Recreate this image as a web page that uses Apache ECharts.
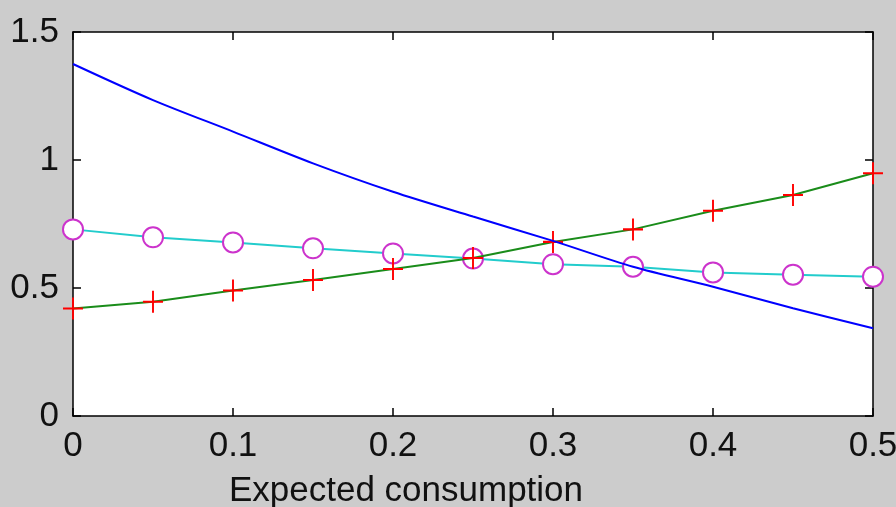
<!DOCTYPE html>
<html>
<head>
<meta charset="utf-8">
<script src="https://cdn.jsdelivr.net/npm/echarts@6/dist/echarts.min.js"></script>
<style>
html,body{margin:0;padding:0;background:#cccccc;}
#chart{width:896px;height:507px;}
</style>
</head>
<body>
<div id="chart"></div>
<script>
// Data
const xValues = [0, 0.05, 0.1, 0.15, 0.2, 0.25, 0.3, 0.35, 0.4, 0.45, 0.5];
const blueValues = [1.375, 1.234, 1.111, 0.987, 0.876, 0.779, 0.684, 0.583, 0.505, 0.421, 0.343];
const greenValues = [0.42, 0.446, 0.49, 0.531, 0.574, 0.617, 0.68, 0.729, 0.802, 0.863, 0.948];
const cyanValues = [0.729, 0.698, 0.678, 0.655, 0.635, 0.615, 0.593, 0.583, 0.561, 0.552, 0.544];
const xAxisName = 'Expected consumption';
const xMin = 0, xMax = 0.5, xStep = 0.1;
const yMin = 0, yMax = 1.5, yStep = 0.5;

const pairs = vals => xValues.map((x, i) => [x, vals[i]]);
const font = '"Liberation Sans", Arial, sans-serif';
const plusPath = 'path://M0,-10L0,10M-10,0L10,0';

const chart = echarts.init(document.getElementById('chart'), null, {renderer: 'canvas'});
const axisLineStyle = {color: '#000', width: 1.5};
chart.setOption({
  backgroundColor: '#cccccc',
  animation: false,
  grid: {left: 73, right: 23, top: 32, bottom: 91, show: true, backgroundColor: '#ffffff',
    borderWidth: 0, containLabel: false, outerBoundsMode: 'none'},
  xAxis: [
    {
      type: 'value', position: 'bottom', min: xMin, max: xMax, interval: xStep,
      axisLine: {show: true, onZero: false, lineStyle: axisLineStyle},
      axisTick: {show: true, inside: true, length: 8, lineStyle: {color: '#000', width: 1.5}},
      splitLine: {show: false},
      axisLabel: {color: '#111', fontFamily: font, fontSize: 35, margin: 13,
        formatter: v => String(Math.round(v * 10) / 10)},
      name: xAxisName, nameLocation: 'middle', nameGap: 58,
      nameTextStyle: {color: '#111', fontFamily: font, fontSize: 35, padding: [0, 134, 0, 0]}
    },
    {
      type: 'value', position: 'top', min: xMin, max: xMax, interval: xStep,
      axisLine: {show: true, onZero: false, lineStyle: axisLineStyle},
      axisTick: {show: true, inside: true, length: 8, lineStyle: {color: '#000', width: 1.5}},
      splitLine: {show: false}, axisLabel: {show: false}
    }
  ],
  yAxis: [
    {
      type: 'value', position: 'left', min: yMin, max: yMax, interval: yStep,
      axisLine: {show: true, onZero: false, lineStyle: axisLineStyle},
      axisTick: {show: true, inside: true, length: 8, lineStyle: {color: '#000', width: 1.5}},
      splitLine: {show: false},
      axisLabel: {color: '#111', fontFamily: font, fontSize: 35, margin: 14,
        formatter: v => String(Math.round(v * 10) / 10)}
    },
    {
      type: 'value', position: 'right', min: yMin, max: yMax, interval: yStep,
      axisLine: {show: true, onZero: false, lineStyle: axisLineStyle},
      axisTick: {show: true, inside: true, length: 8, lineStyle: {color: '#000', width: 1.5}},
      splitLine: {show: false}, axisLabel: {show: false}
    }
  ],
  series: [
    {
      type: 'line', data: pairs(cyanValues), clip: false, z: 2,
      lineStyle: {color: '#22cccc', width: 2},
      symbol: 'emptyCircle', symbolSize: 20, showSymbol: true,
      itemStyle: {color: '#cc33cc', borderColor: '#cc33cc', borderWidth: 2}
    },
    {
      type: 'line', data: pairs(greenValues), clip: false, z: 3,
      lineStyle: {color: '#1a8c1a', width: 2},
      symbol: plusPath, symbolSize: [20, 22], showSymbol: true,
      itemStyle: {color: 'none', borderColor: '#ff0000', borderWidth: 2}
    },
    {
      type: 'line', data: pairs(blueValues), clip: false, z: 4,
      lineStyle: {color: '#0000ff', width: 2},
      symbol: 'none', smooth: 0.3
    }
  ]
});
</script>
</body>
</html>
